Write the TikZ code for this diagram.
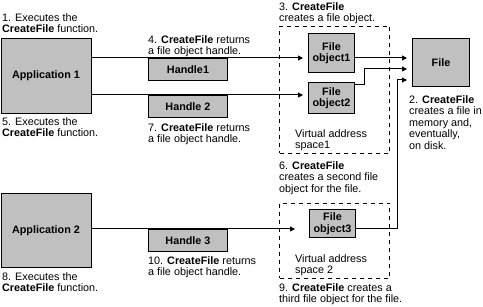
\documentclass[tikz,border=0pt]{standalone}
\usepackage{fontspec}
\setmainfont{Liberation Sans}
\usetikzlibrary{arrows.meta}
\definecolor{boxgray}{HTML}{C0C0C0}
\begin{document}
\begin{tikzpicture}[x=1pt,y=-1pt,
  gbox/.style={draw=black, fill=boxgray, line width=1pt, align=center, inner sep=0pt,
    anchor=north west, font=\fontsize{10.8}{11.5}\selectfont\bfseries},
  lbl/.style={anchor=north west, inner sep=0pt, align=left, font=\fontsize{10.8}{11.5}\selectfont},
  conn/.style={line width=1pt},
  arr/.style={conn, -{Triangle[length=5pt,width=5pt]}, shorten >=5pt},
  vas/.style={draw, line width=1pt, dash pattern=on 4pt off 4pt, anchor=north west, inner sep=0pt}
]
\useasboundingbox (0,0) rectangle (483,307);
% boxes
\node[gbox, minimum width=90pt, minimum height=75pt] (app1) at (0.5,38) {Application 1};
\node[gbox, minimum width=90pt, minimum height=74pt] (app2) at (0.5,193) {Application 2};
\node[gbox, minimum width=79pt, minimum height=22pt] (handle1) at (148,58) {Handle1};
\node[gbox, minimum width=79pt, minimum height=22pt] (handle2) at (148,95) {Handle 2};
\node[gbox, minimum width=79pt, minimum height=22pt] (handle3) at (148,229) {Handle 3};
\node[vas, minimum width=110pt, minimum height=127pt] (vas1) at (279,26) {};
\node[vas, minimum width=110pt, minimum height=75pt] (vas2) at (279,203) {};
\node[gbox, minimum width=46pt, minimum height=39pt] (fo1) at (308,33) {File\\object1};
\node[gbox, minimum width=46pt, minimum height=31pt] (fo2) at (308,82) {File\\object2};
\node[gbox, minimum width=46pt, minimum height=28pt] (fo3) at (309,209) {File\\object3};
\node[gbox, minimum width=57pt, minimum height=48pt] (file) at (412,38) {File};
% bend points
\coordinate (k1) at (364,85);
\coordinate (k2) at (364,69);
\coordinate (k3) at (397,229);
\coordinate (k4) at (397,80);
% connectors
\draw[arr] (app1.east |- handle1.north) -- (fo1.west |- handle1.north);
\draw[arr] (app1.east |- handle2.north) -- (fo2.west |- handle2.north);
\draw[arr, shorten >=14pt] (app2.east |- handle3.north) -- (fo3.west |- handle3.north);
\draw[arr] (fo1.east |- handle1.north) -- (file.west |- handle1.north);
\draw[arr] (fo2.east |- k1) -- (k1) -- (k2) -- (file.west |- k2);
\draw[arr] (fo3.east |- k3) -- (k3) -- (k4) -- (file.west |- k4);
% labels
\node[lbl] (t1) at (2,13) {1. Executes the\\\textbf{CreateFile} function.};
\node[lbl] (t3) at (279,2) {3. \textbf{CreateFile}\\creates a file object.};
\node[lbl] (t4) at (148,35) {4. \textbf{CreateFile} returns\\a file object handle.};
\node[lbl] (t5) at (2,117) {5. Executes the\\\textbf{CreateFile} function.};
\node[lbl] (t7) at (148,123) {7. \textbf{CreateFile} returns\\a file object handle.};
\node[lbl] (t2) at (409,95) {2. \textbf{CreateFile}\\creates a file in\\memory and,\\eventually,\\on disk.};
\node[lbl] (tv1) at (295,129) {Virtual address\\space1};
\node[lbl] (t6) at (279,161) {6. \textbf{CreateFile}\\creates a second file\\object for the file.};
\node[lbl] (tv2) at (295,254) {Virtual address\\space 2};
\node[lbl] (t9) at (279,283) {9. \textbf{CreateFile} creates a\\third file object for the file.};
\node[lbl] (t8) at (2,272) {8. Executes the\\\textbf{CreateFile} function.};
\node[lbl] (t10) at (148,256) {10. \textbf{CreateFile} returns\\a file object handle.};
\end{tikzpicture}
\end{document}
